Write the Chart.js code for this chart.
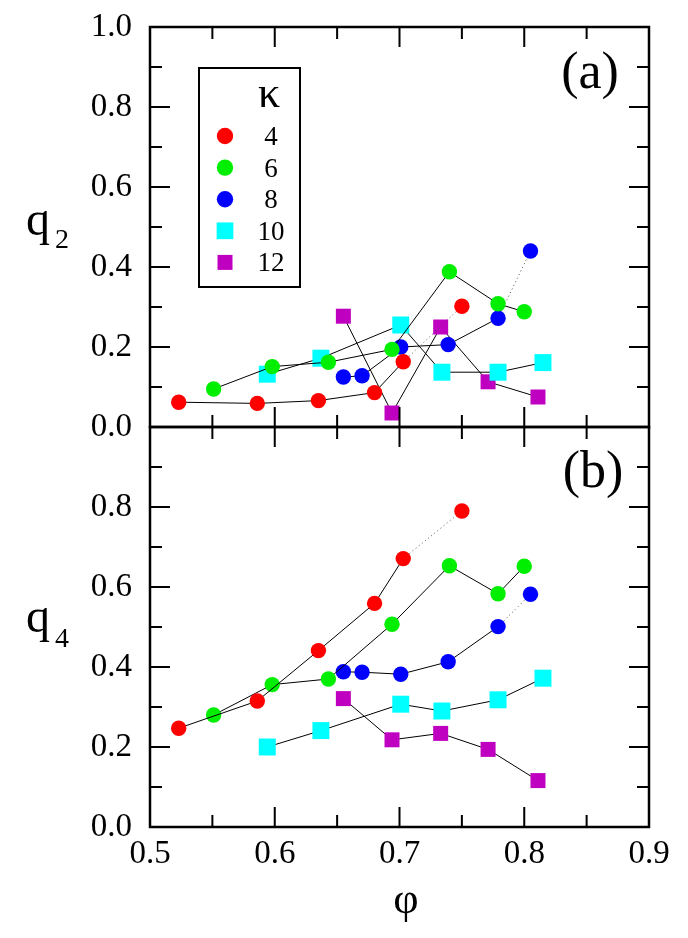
<!DOCTYPE html>
<html>
<head>
<meta charset="utf-8">
<script src="https://cdn.jsdelivr.net/npm/chart.js@4.4.1/dist/chart.umd.min.js"></script>
<style>
  html, body { margin: 0; padding: 0; background: #fff; }
  #wrap { width: 688px; height: 938px; }
  #precarga { position: absolute; left: -9999px; font-family: 'Liberation Serif'; }
</style>
</head>
<body>
<span id="precarga">0.123456789 κφq(ab)</span>
<div id="wrap"><canvas id="grafico" width="688" height="938"></canvas></div>
<script>
// Valores: phi (eje x), q2 (panel a) y q4 (panel b) para cada kappa
const kappas = ['4', '6', '8', '10', '12'];

const phiK4 = [0.523, 0.586, 0.635, 0.680, 0.703, 0.750];
const q2K4  = [0.062, 0.059, 0.066, 0.086, 0.163, 0.302];
const q4K4  = [0.247, 0.315, 0.441, 0.559, 0.671, 0.790];

const phiK6 = [0.551, 0.598, 0.643, 0.694, 0.740, 0.779, 0.800];
const q2K6  = [0.095, 0.151, 0.162, 0.194, 0.388, 0.308, 0.288];
const q4K6  = [0.280, 0.356, 0.370, 0.507, 0.653, 0.583, 0.652];

const phiK8 = [0.655, 0.670, 0.701, 0.739, 0.779, 0.805];
const q2K8  = [0.125, 0.128, 0.200, 0.206, 0.272, 0.440];
const q4K8  = [0.388, 0.387, 0.382, 0.413, 0.501, 0.582];

const phiK10 = [0.594, 0.637, 0.701, 0.734, 0.779, 0.815];
const q2K10  = [0.132, 0.172, 0.255, 0.137, 0.137, 0.161];
const q4K10  = [0.200, 0.241, 0.307, 0.290, 0.318, 0.372];

const phiK12 = [0.655, 0.694, 0.733, 0.771, 0.811];
const q2K12  = [0.277, 0.035, 0.250, 0.113, 0.075];
const q4K12  = [0.321, 0.218, 0.234, 0.194, 0.116];

// el último tramo de kappa=4 y kappa=8 va punteado
const ultimoPunteado = [true, false, true, false, false];

// marcas de los ejes
const ticksPhi = [0.5, 0.6, 0.7, 0.8, 0.9];
const ticksQ = [0.0, 0.2, 0.4, 0.6, 0.8, 1.0];

const series = [
    { phi: phiK4,  q2: q2K4,  q4: q4K4 },
    { phi: phiK6,  q2: q2K6,  q4: q4K6 },
    { phi: phiK8,  q2: q2K8,  q4: q4K8 },
    { phi: phiK10, q2: q2K10, q4: q4K10 },
    { phi: phiK12, q2: q2K12, q4: q4K12 }
];

const colores = ['#ff0000', '#00ee00', '#0000ff', '#00ffff', '#c000c0'];
const estilos = ['circle', 'circle', 'circle', 'rect', 'rect'];
const radios = [7.7, 7.7, 7.7, 12, 10.6];

const FUENTE = "'Liberation Serif', 'Times New Roman', Times, serif";

function crearDataset(i, panel) {
    const s = series[i];
    const valores = panel === 'ya' ? s.q2 : s.q4;
    const n = s.phi.length;
    return {
        label: 'κ = ' + kappas[i],
        data: s.phi.map((x, j) => ({ x: x, y: valores[j] })),
        xAxisID: 'x',
        yAxisID: panel,
        showLine: true,
        borderColor: '#000',
        borderWidth: 1,
        backgroundColor: colores[i],
        pointBackgroundColor: colores[i],
        pointBorderColor: colores[i],
        pointBorderWidth: 0,
        pointStyle: estilos[i],
        pointRadius: radios[i],
        pointHoverRadius: radios[i],
        tension: 0,
        fill: false,
        clip: false,
        segment: {
            borderDash: ctx => (ultimoPunteado[i] && ctx.p1DataIndex === n - 1) ? [1, 3] : undefined,
            borderColor: ctx => (ultimoPunteado[i] && ctx.p1DataIndex === n - 1) ? '#555' : '#000'
        }
    };
}

const datasets = [];
kappas.forEach((k, i) => datasets.push(crearDataset(i, 'ya')));
kappas.forEach((k, i) => datasets.push(crearDataset(i, 'yb')));

// Marco de cada panel con marcas hacia adentro
const marcos = {
    id: 'marcos',
    afterDatasetsDraw(chart) {
        const ctx = chart.ctx;
        const sx = chart.scales.x;
        const left = sx.getPixelForValue(0.5);
        const right = sx.getPixelForValue(0.9);
        ctx.save();
        ctx.strokeStyle = '#000';
        ['ya', 'yb'].forEach(id => {
            const sy = chart.scales[id];
            const top = sy.getPixelForValue(1);
            const bottom = sy.getPixelForValue(0);
            ctx.lineWidth = 2;
            ctx.beginPath();
            for (let k = 1; k < 10; k++) {
                const y = sy.getPixelForValue(k / 10);
                const largo = k % 2 === 0 ? 20 : 12;
                ctx.moveTo(left, y); ctx.lineTo(left + largo, y);
                ctx.moveTo(right, y); ctx.lineTo(right - largo, y);
            }
            for (let k = 1; k < 8; k++) {
                const x = sx.getPixelForValue(0.5 + k * 0.05);
                const largo = k % 2 === 0 ? 20 : 12;
                ctx.moveTo(x, bottom); ctx.lineTo(x, bottom - largo);
                ctx.moveTo(x, top); ctx.lineTo(x, top + largo);
            }
            ctx.stroke();
            ctx.lineWidth = 2.5;
            ctx.strokeRect(left, top, right - left, bottom - top);
        });
        ctx.restore();
    }
};

// Leyenda, títulos de ejes y etiquetas de panel
const textos = {
    id: 'textos',
    afterDraw(chart) {
        const ctx = chart.ctx;
        ctx.save();
        ctx.fillStyle = '#000';
        ctx.textBaseline = 'alphabetic';

        // caja de la leyenda
        ctx.lineWidth = 2;
        ctx.strokeStyle = '#000';
        ctx.strokeRect(199, 68, 101, 219);
        ctx.textAlign = 'center';
        ctx.font = '44px ' + FUENTE;
        ctx.fillText('κ', 269, 107);
        ctx.font = '27px ' + FUENTE;
        kappas.forEach((k, i) => {
            const yc = 136 + i * 31.6;
            ctx.fillStyle = colores[i];
            if (estilos[i] === 'circle') {
                ctx.beginPath();
                ctx.arc(225, yc, 8.2, 0, Math.PI * 2);
                ctx.fill();
            } else {
                const lado = i === 3 ? 16.7 : 15;
                ctx.fillRect(225 - lado / 2, yc - lado / 2, lado, lado);
            }
            ctx.fillStyle = '#000';
            ctx.fillText(k, 271, yc + 9);
        });

        // títulos de los ejes
        ctx.textAlign = 'left';
        ctx.font = '48px ' + FUENTE;
        ctx.fillText('q', 26, 235);
        ctx.fillText('q', 26, 632);
        ctx.font = '28px ' + FUENTE;
        ctx.fillText('2', 55, 248);
        ctx.fillText('4', 55, 647);
        ctx.textAlign = 'center';
        ctx.font = '44px ' + FUENTE;
        ctx.fillText('φ', 406, 913);

        // etiquetas de panel
        ctx.font = '52px ' + FUENTE;
        ctx.fillText('(a)', 590, 88);
        ctx.fillText('(b)', 593, 487);
        ctx.restore();
    }
};

const fuenteTicks = { family: FUENTE, size: 33 };

function ajustarEjeY(s) {
    s.width = 150;
    // sin margen extra por la etiqueta superior
    s.paddingTop = 0;
    s.paddingBottom = 0;
}

function dibujar() {
    new Chart(document.getElementById('grafico').getContext('2d'), {
        type: 'scatter',
        data: { datasets: datasets },
        options: {
            responsive: false,
            animation: false,
            events: [],
            layout: { padding: { top: 27, right: 39, bottom: 0, left: 0 } },
            plugins: {
                legend: { display: false },
                tooltip: { enabled: false }
            },
            scales: {
                x: {
                    type: 'linear',
                    position: 'bottom',
                    min: 0.5,
                    max: 0.9,
                    grid: { display: false, drawTicks: false },
                    border: { display: false },
                    afterBuildTicks: s => { s.ticks = ticksPhi.map(v => ({ value: v })); },
                    afterFit: s => { s.height = 111; },
                    ticks: {
                        color: '#000',
                        font: fuenteTicks,
                        padding: 8,
                        maxRotation: 0,
                        callback: v => Number(v).toFixed(1)
                    }
                },
                // los ejes izquierdos apilados se colocan en orden inverso: yb primero queda abajo
                yb: {
                    type: 'linear',
                    position: 'left',
                    stack: 'q',
                    stackWeight: 1,
                    min: 0,
                    max: 1,
                    grid: { display: false, drawTicks: false },
                    border: { display: false },
                    afterBuildTicks: s => { s.ticks = ticksQ.map(v => ({ value: v })); },
                    afterFit: ajustarEjeY,
                    ticks: {
                        color: '#000',
                        font: fuenteTicks,
                        padding: 18,
                        callback: v => (v >= 0.99 ? '' : Number(v).toFixed(1))
                    }
                },
                ya: {
                    type: 'linear',
                    position: 'left',
                    stack: 'q',
                    stackWeight: 1,
                    min: 0,
                    max: 1,
                    grid: { display: false, drawTicks: false },
                    border: { display: false },
                    afterBuildTicks: s => { s.ticks = ticksQ.map(v => ({ value: v })); },
                    afterFit: ajustarEjeY,
                    ticks: {
                        color: '#000',
                        font: fuenteTicks,
                        padding: 18,
                        callback: v => Number(v).toFixed(1)
                    }
                }
            }
        },
        plugins: [marcos, textos]
    });
}

if (document.fonts && document.fonts.load) {
    document.fonts.load("33px 'Liberation Serif'").then(dibujar, dibujar);
} else {
    dibujar();
}
</script>
</body>
</html>
